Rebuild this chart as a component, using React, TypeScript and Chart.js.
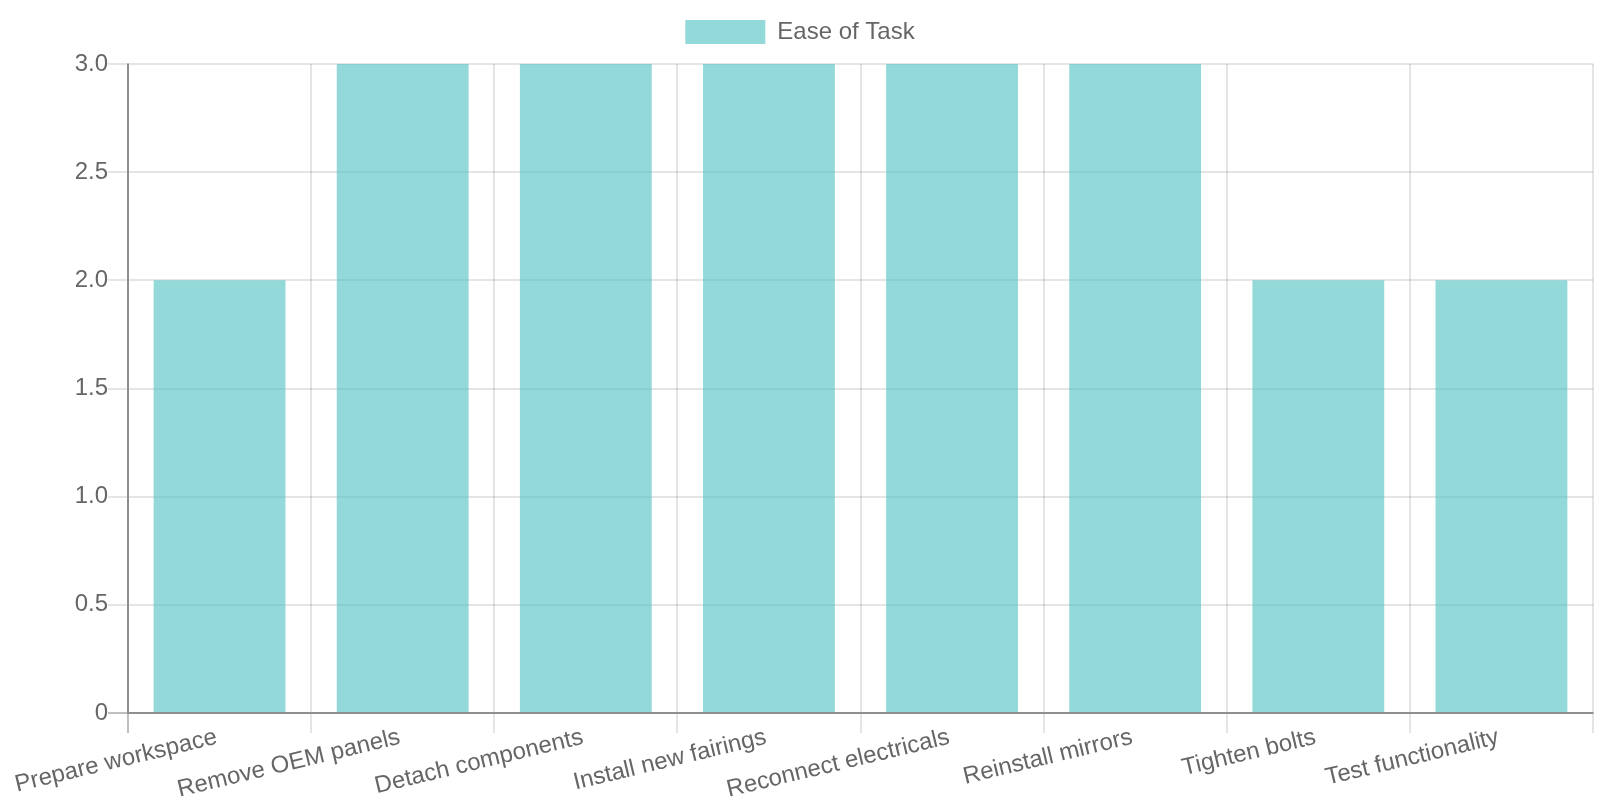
import React, { useEffect, useRef } from 'react';
import { Chart, registerables } from 'chart.js';

Chart.register(...registerables);

const taskLabels = [
  'Prepare workspace',
  'Remove OEM panels',
  'Detach components',
  'Install new fairings',
  'Reconnect electricals',
  'Reinstall mirrors',
  'Tighten bolts',
  'Test functionality',
];
const easeValues = [2, 3, 3, 3, 3, 3, 2, 2];

const FONT = "'Helvetica Neue', Helvetica, Arial, sans-serif";
const GRID = 'rgba(0,0,0,0.1)';
const ZERO = 'rgba(0,0,0,0.25)';

// drawn as an 800x400 chart at pixel ratio 2, then shown at 2x size
const EaseChart: React.FC = () => {
  const chartRef = useRef<HTMLCanvasElement>(null);
  const chartInstance = useRef<Chart | null>(null);

  useEffect(() => {
    if (chartRef.current) {
      const ctx = chartRef.current.getContext('2d');
      if (ctx) {
        if (chartInstance.current) {
          chartInstance.current.destroy();
        }

        chartInstance.current = new Chart(ctx, {
          type: 'bar',
          data: {
            labels: taskLabels,
            datasets: [{
              label: 'Ease of Task',
              data: easeValues,
              backgroundColor: 'rgba(75, 192, 192, 0.6)',
              borderWidth: 0,
            }]
          },
          options: {
            responsive: false,
            devicePixelRatio: 2,
            animation: false,
            font: { family: FONT, size: 12 },
            plugins: {
              legend: {
                position: 'top',
                labels: { color: '#666', font: { family: FONT, size: 12 } }
              },
              tooltip: { enabled: false }
            },
            scales: {
              x: {
                afterFit: (scale: any) => {
                  scale.height = 43.5;
                  scale.paddingRight = 3.5;
                },
                grid: {
                  tickLength: 10,
                  color: (c: any) => (c.index === 0 ? ZERO : GRID),
                },
                border: { color: ZERO },
                ticks: {
                  color: '#666',
                  padding: -5,
                  labelOffset: -1.5,
                  minRotation: 13.5,
                  maxRotation: 13.5,
                  font: { family: FONT, size: 12 }
                }
              },
              y: {
                afterFit: (scale: any) => { scale.width = 64; },
                beginAtZero: true,
                max: 3,
                grid: {
                  tickLength: 10,
                  color: (c: any) => (c.tick && c.tick.value === 0 ? ZERO : GRID),
                },
                border: { color: ZERO },
                ticks: { color: '#666', padding: 0, stepSize: 0.5, font: { family: FONT, size: 12 } }
              }
            }
          }
        });
      }
    }

    return () => {
      if (chartInstance.current) {
        chartInstance.current.destroy();
        chartInstance.current = null;
      }
    };
  }, []);

  return (
    <div style={{ position: 'absolute', left: 0, top: 0, width: 800, height: 400, transform: 'scale(2)', transformOrigin: '0 0' }}>
      <canvas ref={chartRef} width={800} height={400} />
    </div>
  );
};

export default function App() {
  return <EaseChart />;
}
